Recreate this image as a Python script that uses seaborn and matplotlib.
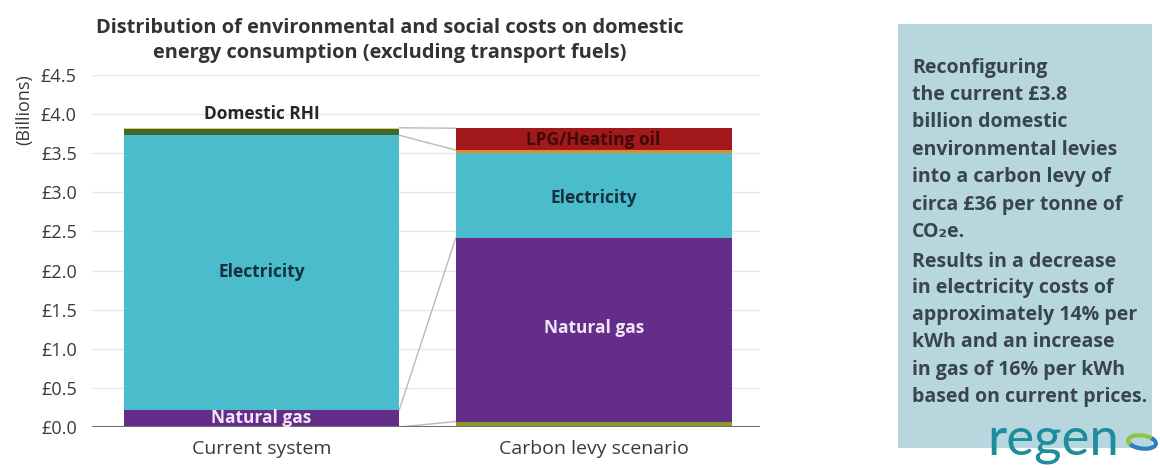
import matplotlib
matplotlib.use("Agg")
import matplotlib.pyplot as plt
import seaborn as sns
import numpy as np
import pandas as pd
from matplotlib.patches import Rectangle, Arc

# ---- data ----
categories = ["Current system", "Carbon levy scenario"]
other_base = [0.0, 0.07]      # olive strip at the bottom of the levy bar
natural_gas = [0.22, 2.35]
electricity = [3.51, 1.08]
domestic_rhi = [0.08, 0.0]
other_fuel = [0.015, 0.04]     # thin yellow/orange strip
lpg_heating_oil = [0.0, 0.28]
yticks = [0.0, 0.5, 1.0, 1.5, 2.0, 2.5, 3.0, 3.5, 4.0, 4.5]
ytick_labels = ["£0.0", "£0.5", "£1.0", "£1.5", "£2.0", "£2.5", "£3.0", "£3.5", "£4.0", "£4.5"]

series = [
    ("other_base", other_base, "#8e9a2c"),
    ("Natural gas", natural_gas, "#652d8a"),
    ("Electricity", electricity, "#4bbccb"),
    ("Domestic RHI", domestic_rhi, "#3d6a2a"),
    ("other_fuel", other_fuel, ["#e6cf6a", "#e38a28"]),
    ("LPG/Heating oil", lpg_heating_oil, "#a2181b"),
]

sns.set_theme(style="white")
plt.rcParams["font.family"] = ["Open Sans", "DejaVu Sans"]

fig = plt.figure(figsize=(11.6, 4.68), dpi=100)
ax = fig.add_axes([0.0793, 0.0876, 0.5757, 0.7521])

width = 0.83
cum = np.zeros(len(categories))
tops = []
for name, vals, col in series:
    cum = cum + np.array(vals)
    tops.append(cum.copy())

# draw tallest first (overlay technique)
for (name, vals, col), top in zip(reversed(series), reversed(tops)):
    df = pd.DataFrame({"cat": categories, "val": top})
    if isinstance(col, list):
        sns.barplot(data=df, x="cat", y="val", hue="cat", palette=col, legend=False,
                    width=width, linewidth=0, errorbar=None, saturation=1, ax=ax, zorder=3)
    else:
        sns.barplot(data=df, x="cat", y="val", color=col, saturation=1,
                    width=width, linewidth=0, errorbar=None, ax=ax, zorder=3)

# connectors between the bars
t = dict(zip([s[0] for s in series], tops))
x0, x1 = 0 + width / 2, 1 - width / 2
conn = [
    (t["other_fuel"][0], t["LPG/Heating oil"][1]),
    (t["Electricity"][0], t["other_fuel"][1]),
    (t["Natural gas"][0], t["Natural gas"][1]),
    (0.0, t["other_base"][1]),
]
for ya, yb in conn:
    ax.plot([x0, x1], [ya, yb], color="#b9b9b9", lw=1.0, zorder=2)

ax.set_xlim(-0.51, 1.5)
ax.set_ylim(0, 4.5)
ax.set_yticks(yticks)
ax.set_yticklabels(ytick_labels, fontsize=13, color="#3a3a3a")
ax.tick_params(axis="y", length=0, pad=11)
ax.tick_params(axis="x", length=0, pad=9, labelsize=14, labelcolor="#3a3a3a")
ax.yaxis.grid(True, color="#e6e6e6", lw=1.0, zorder=0)
ax.set_axisbelow(True)
for sp in ["top", "right", "left", "bottom"]:
    ax.spines[sp].set_visible(False)
ax.axhline(0, color="#707070", lw=2.2, zorder=4)
ax.set_xlabel("")
ax.set_ylabel("")

# segment labels
lab = dict(fontsize=12.5, fontweight="bold", ha="center", va="center", zorder=5)
ax.text(0, 4.0, "Domestic RHI", color="#262626", **lab)
ax.text(0, 1.98, "Electricity", color="#163040", **lab)
ax.text(0, 0.11, "Natural gas", color="#f1e6f6", **lab)
ax.text(1, 3.67, "LPG/Heating oil", color="#3e0a0a", **lab)
ax.text(1, 2.93, "Electricity", color="#163040", **lab)
ax.text(1, 1.27, "Natural gas", color="#f1e6f6", **lab)

# y-axis unit
fig.text(24 / 1160, 1 - 110 / 468, "(Billions)", rotation=90, ha="center", va="center",
         fontsize=13, color="#3a3a3a")

# title
fig.text(390 / 1160, 1 - 28 / 468, "Distribution of environmental and social costs on domestic",
         ha="center", va="center", fontsize=14.4, fontweight="bold", color="#333333")
fig.text(390 / 1160, 1 - 53 / 468, "energy consumption (excluding transport fuels)",
         ha="center", va="center", fontsize=14.4, fontweight="bold", color="#333333")

# right-hand panel
fig.patches.append(Rectangle((898 / 1160, 1 - 448 / 468), (1152 - 898) / 1160, (448 - 24) / 468,
                             transform=fig.transFigure, facecolor="#b7d6de", edgecolor="none",
                             zorder=0))
lines = [
    "Reconfiguring",
    "the current £3.8",
    "billion domestic",
    "environmental levies",
    "into a carbon levy of",
    "circa £36 per tonne of",
    "CO₂e.",
    "Results in a decrease",
    "in electricity costs of",
    "approximately 14% per",
    "kWh and an increase",
    "in gas of 16% per kWh",
    "based on current prices.",
]
ys = [68, 95, 122, 150, 177, 205, 232, 262, 288, 315, 342, 370, 397]
for s, y in zip(lines, ys):
    fig.text(912 / 1160, 1 - y / 468, s, ha="left", va="center", fontsize=14,
             fontweight="bold", color="#38454b")

fig.text(1053 / 1160, 1 - 440 / 468, "regen", ha="center", va="center", fontsize=38,
         color="#1d8c9c", family=["Lato", "DejaVu Sans"])
# small swirl mark next to the logo
for ang, colr in [(25, "#8cc63f"), (205, "#2b7fc0")]:
    fig.patches.append(Arc((1142 / 1160, 1 - 442 / 468), 26 / 1160, 14 / 468, angle=ang,
                           theta1=0, theta2=200, transform=fig.transFigure,
                           color=colr, lw=3, zorder=3))

fig.savefig("out.png", dpi=100, facecolor="white")
